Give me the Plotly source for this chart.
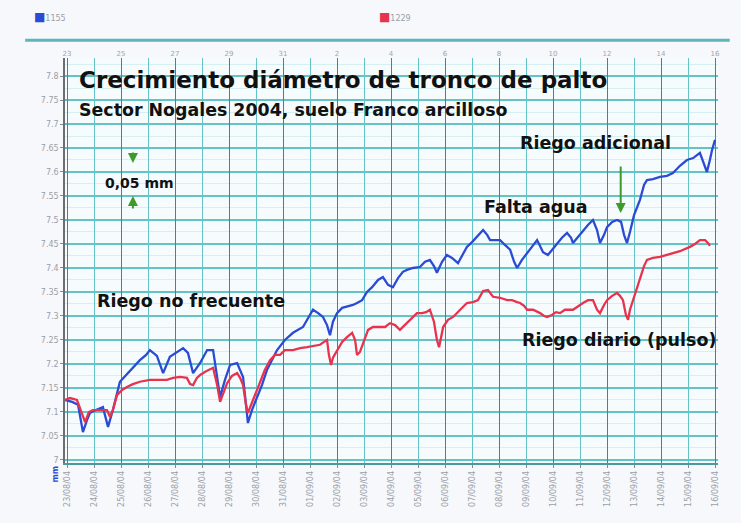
import plotly.graph_objects as go

# ---- data (days since start, trunk diameter mm) ----
blue_x = [-0.07, 0.19, 0.41, 0.59, 0.74, 0.85, 1.07, 1.33, 1.52, 1.70, 1.96, 2.19, 2.44, 2.70, 2.93, 3.07, 3.33, 3.56,
          3.81, 4.07, 4.30, 4.48, 4.67, 4.93, 5.19, 5.41, 5.56, 5.67, 5.85, 6.04, 6.30, 6.52, 6.63, 6.70, 6.85, 7.04,
          7.22, 7.41, 7.59, 7.78, 8.07, 8.37, 8.74, 8.93, 9.11, 9.30, 9.48, 9.63, 9.74, 9.85, 10.00, 10.19, 10.37,
          10.59, 10.74, 10.93, 11.11, 11.30, 11.52, 11.70, 11.89, 12.07, 12.26, 12.44, 12.59, 12.81, 13.07, 13.26,
          13.44, 13.59, 13.70, 13.89, 14.07, 14.26, 14.48, 14.63, 14.81, 15.00, 15.19, 15.41, 15.56, 15.67, 15.85,
          16.04, 16.22, 16.41, 16.56, 16.67, 16.85, 17.04, 17.22, 17.41, 17.52, 17.63, 17.81, 17.96, 18.15, 18.33,
          18.52, 18.67, 18.74, 18.93, 19.11, 19.30, 19.48, 19.63, 19.74, 19.89, 20.00, 20.19, 20.37, 20.52, 20.63,
          20.74, 20.85, 21.00, 21.22, 21.37, 21.48, 21.70, 21.96, 22.22, 22.44, 22.70, 22.96, 23.19, 23.44, 23.59,
          23.70, 23.81, 23.89, 24.00]
blue_y = [7.125, 7.121, 7.115, 7.058, 7.083, 7.098, 7.104, 7.110, 7.069, 7.104, 7.163, 7.177, 7.194, 7.208, 7.219,
          7.229, 7.217, 7.181, 7.215, 7.225, 7.233, 7.223, 7.181, 7.202, 7.229, 7.229, 7.177, 7.131, 7.167, 7.198,
          7.202, 7.173, 7.115, 7.077, 7.104, 7.131, 7.156, 7.188, 7.208, 7.229, 7.250, 7.265, 7.277, 7.296, 7.313,
          7.306, 7.298, 7.281, 7.260, 7.288, 7.306, 7.317, 7.319, 7.323, 7.327, 7.333, 7.350, 7.360, 7.375, 7.381,
          7.365, 7.360, 7.379, 7.392, 7.396, 7.400, 7.402, 7.413, 7.417, 7.404, 7.390, 7.413, 7.427, 7.421, 7.410,
          7.427, 7.444, 7.454, 7.465, 7.479, 7.469, 7.458, 7.458, 7.458, 7.448, 7.438, 7.413, 7.400, 7.417, 7.431,
          7.444, 7.458, 7.446, 7.433, 7.427, 7.438, 7.452, 7.463, 7.473, 7.463, 7.452, 7.465, 7.479, 7.490, 7.500,
          7.479, 7.452, 7.469, 7.485, 7.496, 7.500, 7.496, 7.469, 7.452, 7.475, 7.510, 7.542, 7.573, 7.583, 7.585,
          7.590, 7.592, 7.598, 7.613, 7.625, 7.629, 7.640, 7.615, 7.600, 7.625, 7.646, 7.667]

red_x = [-0.07, 0.11, 0.37, 0.52, 0.67, 0.81, 0.96, 1.22, 1.48, 1.59, 1.70, 1.85, 2.04, 2.22, 2.44, 2.70, 3.07, 3.44,
         3.70, 3.93, 4.19, 4.44, 4.56, 4.67, 4.81, 4.93, 5.15, 5.41, 5.56, 5.67, 5.81, 5.93, 6.11, 6.30, 6.41, 6.52,
         6.63, 6.70, 6.89, 7.15, 7.33, 7.52, 7.70, 7.89, 8.07, 8.37, 8.63, 8.89, 9.11, 9.37, 9.52, 9.63, 9.70, 9.78,
         9.85, 10.00, 10.19, 10.37, 10.56, 10.67, 10.74, 10.85, 11.00, 11.15, 11.33, 11.59, 11.78, 11.96, 12.15,
         12.33, 12.52, 12.70, 12.96, 13.15, 13.30, 13.44, 13.59, 13.70, 13.78, 13.85, 13.93, 14.11, 14.30, 14.56,
         14.81, 15.04, 15.22, 15.41, 15.59, 15.78, 16.04, 16.30, 16.48, 16.67, 16.78, 16.93, 17.04, 17.26, 17.52,
         17.67, 17.78, 17.96, 18.11, 18.26, 18.44, 18.74, 18.93, 19.11, 19.30, 19.48, 19.63, 19.74, 19.89, 20.00,
         20.19, 20.37, 20.48, 20.59, 20.70, 20.78, 20.85, 20.96, 21.11, 21.22, 21.37, 21.48, 21.70, 21.96, 22.22,
         22.44, 22.70, 23.07, 23.26, 23.44, 23.63, 23.74, 23.81]
red_y = [7.125, 7.129, 7.125, 7.100, 7.079, 7.100, 7.104, 7.104, 7.104, 7.090, 7.104, 7.135, 7.146, 7.152, 7.158,
         7.163, 7.167, 7.167, 7.167, 7.171, 7.173, 7.171, 7.158, 7.156, 7.171, 7.177, 7.185, 7.192, 7.156, 7.121,
         7.140, 7.160, 7.175, 7.181, 7.171, 7.156, 7.115, 7.098, 7.125, 7.160, 7.188, 7.208, 7.219, 7.219, 7.229,
         7.229, 7.233, 7.235, 7.238, 7.240, 7.246, 7.250, 7.219, 7.198, 7.213, 7.229, 7.246, 7.256, 7.265, 7.250,
         7.219, 7.225, 7.250, 7.271, 7.277, 7.277, 7.277, 7.285, 7.281, 7.271, 7.281, 7.292, 7.306, 7.306, 7.308,
         7.313, 7.288, 7.250, 7.235, 7.254, 7.277, 7.292, 7.298, 7.313, 7.327, 7.329, 7.333, 7.352, 7.354, 7.340,
         7.338, 7.333, 7.333, 7.329, 7.327, 7.321, 7.313, 7.313, 7.306, 7.300, 7.298, 7.302, 7.308, 7.306, 7.313,
         7.313, 7.321, 7.327, 7.333, 7.333, 7.313, 7.306, 7.323, 7.333, 7.342, 7.348, 7.342, 7.333, 7.302, 7.292,
         7.313, 7.333, 7.358, 7.381, 7.404, 7.417, 7.421, 7.423, 7.427, 7.431, 7.435, 7.444, 7.450, 7.458, 7.458,
         7.452, 7.446]

series_names = ["1155", "1229"]

y_ticks = [7.0, 7.05, 7.1, 7.15, 7.2, 7.25, 7.3, 7.35, 7.4, 7.45, 7.5, 7.55, 7.6, 7.65, 7.7, 7.75, 7.8]
y_ticklabels = ["7", "7.05", "7.1", "7.15", "7.2", "7.25", "7.3", "7.35", "7.4", "7.45", "7.5", "7.55", "7.6",
                "7.65", "7.7", "7.75", "7.8"]
bottom_ticks = list(range(0, 25))
bottom_labels = ["23/08/04", "24/08/04", "25/08/04", "26/08/04", "27/08/04", "28/08/04", "29/08/04", "30/08/04",
                 "31/08/04", "01/09/04", "02/09/04", "03/09/04", "04/09/04", "05/09/04", "06/09/04", "07/09/04",
                 "08/09/04", "09/09/04", "10/09/04", "11/09/04", "12/09/04", "13/09/04", "14/09/04", "15/09/04",
                 "16/09/04"]
top_ticks = list(range(0, 25, 2))
top_labels = ["23", "25", "27", "29", "31", "2", "4", "6", "8", "10", "12", "14", "16"]

BLUE = "#2b4bd4"
RED = "#e8334f"
GREEN = "#3f9a2c"
TEAL = "#63c3c6"

fig = go.Figure()
fig.add_trace(go.Scatter(x=blue_x, y=blue_y, mode="lines", name=series_names[0],
                         line=dict(color=BLUE, width=2.3), showlegend=False))
fig.add_trace(go.Scatter(x=red_x, y=red_y, mode="lines", name=series_names[1],
                         line=dict(color=RED, width=2.3), showlegend=False, xaxis="x2"))

xr = [-0.074, 24.11]
yr = [6.9937, 7.8375]

fig.update_layout(
    width=741, height=523,
    margin=dict(l=65, r=23, t=58, b=60),
    paper_bgcolor="#f6f8fb",
    plot_bgcolor="#f6fcfd",
    font=dict(family="DejaVu Sans", color="#000"),
    xaxis=dict(range=xr, tickmode="array", tickvals=bottom_ticks, ticktext=bottom_labels,
               tickangle=-90, tickfont=dict(size=8, color="#9aa0a8"),
               showgrid=True, gridcolor=TEAL, gridwidth=1.2,
               showline=True, linecolor="#4a9a9c", linewidth=1.5, zeroline=False,
               ticks="outside", ticklen=3, tickcolor="#888"),
    xaxis2=dict(range=xr, overlaying="x", side="top", tickmode="array", tickvals=top_ticks,
                ticktext=top_labels, tickfont=dict(size=7, color="#a0a6ae"),
                showgrid=True, gridcolor="#6f7378", gridwidth=1, zeroline=False,
                showline=False, ticks=""),
    yaxis=dict(range=yr, tickmode="array", tickvals=y_ticks, ticktext=y_ticklabels,
               tickfont=dict(size=8, color="#9aa0a8"),
               showgrid=True, gridcolor=TEAL, gridwidth=1.6,
               minor=dict(dtick=0.025, showgrid=True, gridcolor="#d6f0f2", gridwidth=1),
               showline=True, linecolor="#6a6e74", linewidth=1.5, zeroline=False,
               ticks="outside", ticklen=3, tickcolor="#888"),
)

# top decorative teal rule
fig.add_shape(type="line", xref="paper", yref="paper", x0=-0.061, x1=1.018, y0=1.044, y1=1.044,
              line=dict(color="#5fb6ba", width=3))

ann = []
# legend-like labels
ann.append(dict(xref="paper", yref="paper", x=-0.05, y=1.101, xanchor="left", yanchor="middle", showarrow=False,
                text="<span style='color:%s;font-size:12px'>■</span>%s" % (BLUE, series_names[0]),
                font=dict(size=8, color="#9aa0a8")))
ann.append(dict(xref="paper", yref="paper", x=0.478, y=1.101, xanchor="left", yanchor="middle", showarrow=False,
                text="<span style='color:%s;font-size:12px'>■</span>%s" % (RED, series_names[1]),
                font=dict(size=8, color="#9aa0a8")))
ann.append(dict(xref="paper", yref="paper", x=-0.025, y=-0.054, showarrow=False, text="<b>mm</b>", textangle=-90,
                font=dict(size=8, color=BLUE)))
# titles and labels
ann.append(dict(xref="paper", yref="paper", x=0.018, y=0.946, xanchor="left", yanchor="middle", showarrow=False,
                text="<b>Crecimiento diámetro de tronco de palto</b>", font=dict(size=23, color="#111")))
ann.append(dict(xref="paper", yref="paper", x=0.018, y=0.872, xanchor="left", yanchor="middle", showarrow=False,
                text="<b>Sector Nogales 2004, suelo Franco arcilloso</b>", font=dict(size=17.4, color="#111")))
ann.append(dict(xref="paper", yref="paper", x=0.058, y=0.691, xanchor="left", yanchor="middle", showarrow=False,
                text="<b>0,05 mm</b>", font=dict(size=14, color="#111")))
ann.append(dict(xref="paper", yref="paper", x=0.693, y=0.790, xanchor="left", yanchor="middle", showarrow=False,
                text="<b>Riego adicional</b>", font=dict(size=17.5, color="#111")))
ann.append(dict(xref="paper", yref="paper", x=0.639, y=0.632, xanchor="left", yanchor="middle", showarrow=False,
                text="<b>Falta agua</b>", font=dict(size=17.5, color="#111")))
ann.append(dict(xref="paper", yref="paper", x=0.046, y=0.400, xanchor="left", yanchor="middle", showarrow=False,
                text="<b>Riego no frecuente</b>", font=dict(size=17.5, color="#111")))
ann.append(dict(xref="paper", yref="paper", x=0.697, y=0.304, xanchor="left", yanchor="middle", showarrow=False,
                text="<b>Riego diario (pulso)</b>", font=dict(size=17.5, color="#111")))
# green arrows
ann.append(dict(xref="paper", yref="paper", x=0.104, y=0.741, ax=0, ay=-12, showarrow=True, text="",
                arrowhead=2, arrowsize=1, arrowwidth=2, arrowcolor=GREEN))
ann.append(dict(xref="paper", yref="paper", x=0.104, y=0.659, ax=0, ay=14, showarrow=True, text="",
                arrowhead=2, arrowsize=1, arrowwidth=2, arrowcolor=GREEN))
ann.append(dict(xref="paper", yref="paper", x=0.851, y=0.617, ax=0, ay=-48, showarrow=True, text="",
                arrowhead=2, arrowsize=1, arrowwidth=2, arrowcolor=GREEN))
fig.update_layout(annotations=ann)

fig.write_html("out.html", config={"displayModeBar": False},
               post_script="document.body.style.margin='0px';")
